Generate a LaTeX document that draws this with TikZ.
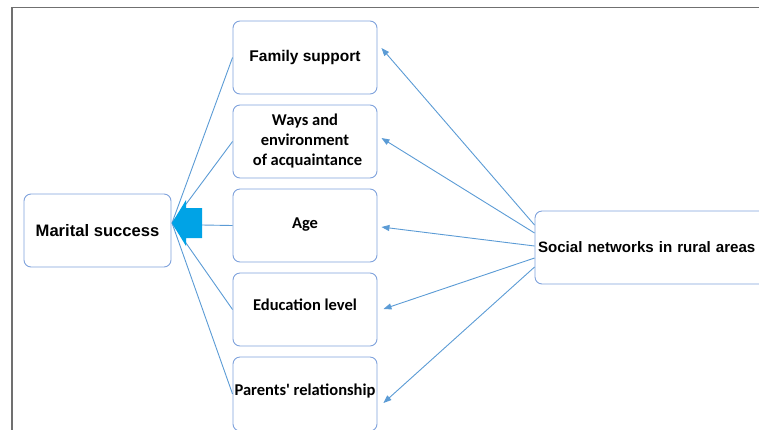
\documentclass[tikz,border=0pt]{standalone}
\usepackage{fontspec}
\newfontfamily\arialf{Liberation Sans}
\newfontfamily\calf{Carlito}
\usetikzlibrary{arrows.meta,calc}
\definecolor{boxc}{HTML}{7FA2DC}
\definecolor{linec}{HTML}{5B9BD5}
\definecolor{arrc}{HTML}{00A3E6}
\definecolor{framec}{HTML}{707070}
\begin{document}
\begin{tikzpicture}[x=1pt,y=-1pt,
  box/.style={draw=boxc,line width=0.9pt,rounded corners=7pt,minimum width=144pt,minimum height=73pt,inner sep=0pt,align=center,text=black,fill=white},
  atxt/.style={font=\arialf\bfseries\fontsize{15.5}{18}\selectfont},
  ctxt/.style={font=\calf\bfseries\fontsize{16.5}{20}\selectfont},
  conn/.style={draw=linec,line width=0.9pt},
  arr/.style={conn,-{Triangle[length=8pt,width=6pt]}}]
\useasboundingbox (0,0) rectangle (759,429);
\clip (0,0) rectangle (759,429);
\draw[framec,line width=1.3pt] (12,432) -- (12,7.5) -- (762,7.5);

\node[box,atxt,font=\arialf\bfseries\fontsize{16.6}{19}\selectfont,minimum width=147pt] (ms) at (97.5,230.5) {\raisebox{1pt}{Marital success}};
\node[box,atxt] (fam) at (305,57.5) {\raisebox{2pt}{Family support}};
\node[box,ctxt] (ways) at (305,141.5) {Ways and\\environment\\\hspace{5pt}of acquaintance};
\node[box,ctxt] (age) at (305,225.5) {\raisebox{4pt}{Age}};
\node[box,ctxt] (edu) at (305,309.5) {\raisebox{9pt}{Education level}};
\node[box,ctxt,minimum height=74pt] (par) at (305,394) {\raisebox{9pt}{Parents' relationship}};
\node[box,atxt,font=\arialf\bfseries\fontsize{15.1}{18}\selectfont,minimum width=260pt,text width=254pt,inner xsep=3pt,align=left] (soc) at (665,247.5) {\raisebox{1pt}{Social networks in rural areas}};

\coordinate (tip) at (172,223);
\coordinate (aback) at (202,225);
\draw[conn] (fam.west) -- (tip);
\draw[conn] (ways.west) -- (tip);
\draw[conn] (edu.west) -- (tip);
\draw[conn] (par.west) -- (tip);
\draw[conn] (age.west) -- (aback);
\fill[arrc] (tip) -- (186,200) -- (186,208) -- (202,208) -- (202,238) -- (186,238) -- (186,246) -- cycle;

\draw[arr] ([yshift=22.5pt]soc.west) -- ([xshift=4pt,yshift=9.5pt]fam.east);
\draw[arr] ([yshift=14.5pt]soc.west) -- ([xshift=4pt,yshift=3.5pt]ways.east);
\draw[arr] ([yshift=1.5pt]soc.west) -- ([xshift=4pt,yshift=-1.5pt]age.east);
\draw[arr] ([yshift=-10.5pt]soc.west) -- ([xshift=6pt,yshift=0.5pt]edu.east);
\draw[arr] ([yshift=-19.5pt]soc.west) -- ([xshift=6pt,yshift=-9pt]par.east);
\end{tikzpicture}
\end{document}
